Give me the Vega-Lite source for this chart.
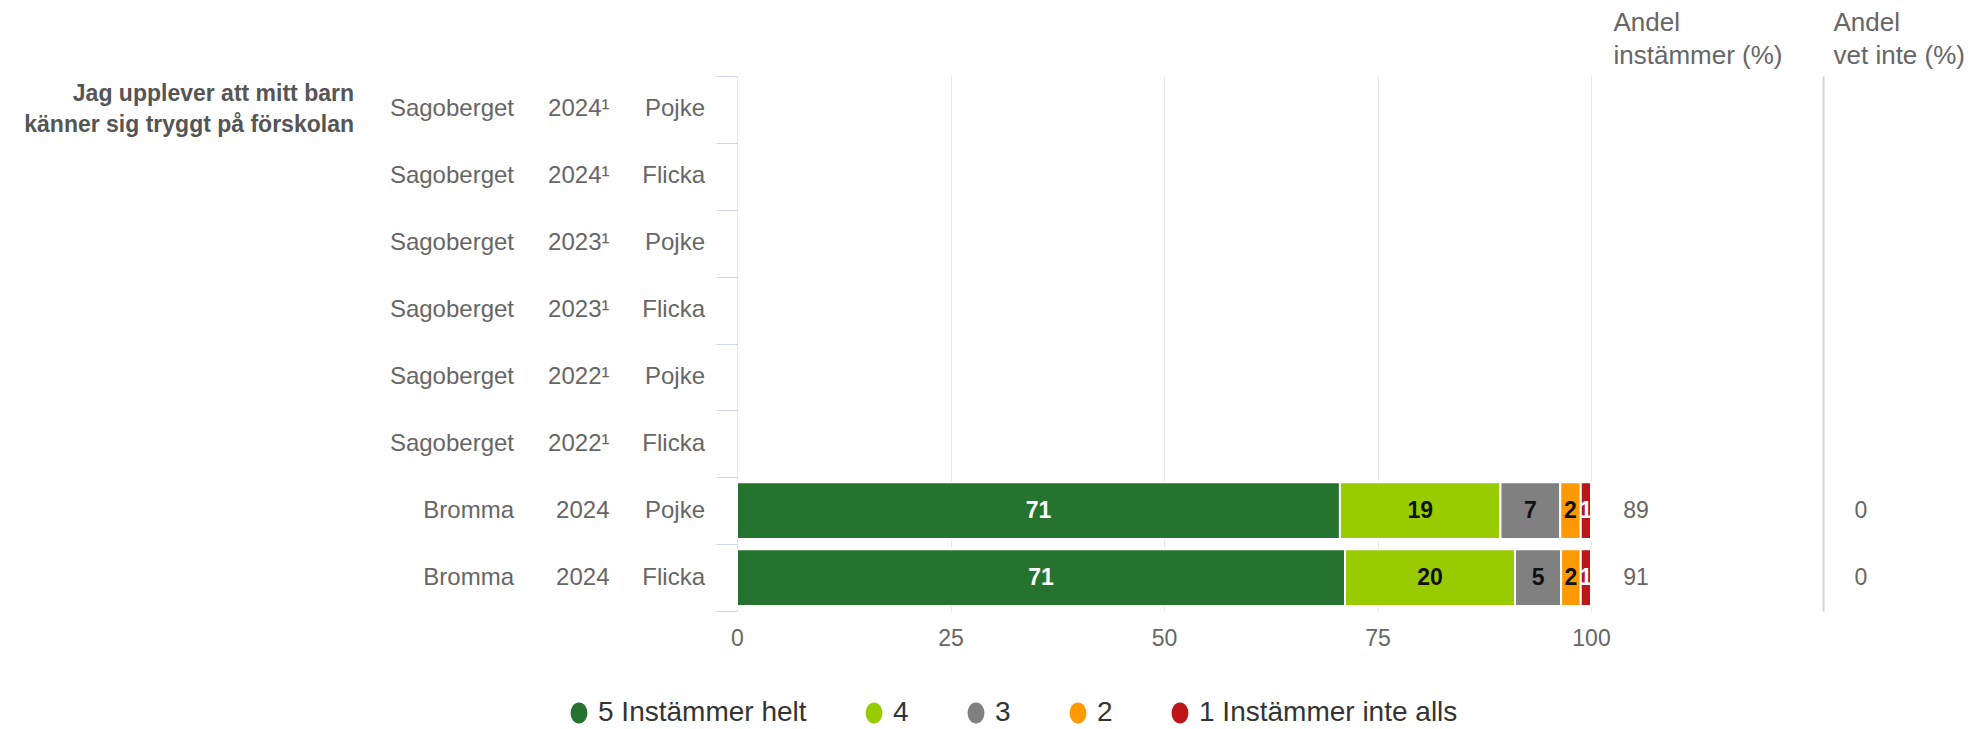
{
  "$schema": "https://vega.github.io/schema/vega-lite/v6.json",
  "padding": {"left": 0, "top": 9, "right": 0, "bottom": 0},
  "background": "white",
  "spacing": 0,
  "bounds": "flush",
  "datasets": {
    "rows": [
      {"row": 1, "unit": "Sagoberget", "year": "2024¹", "gender": "Pojke"},
      {"row": 2, "unit": "Sagoberget", "year": "2024¹", "gender": "Flicka"},
      {"row": 3, "unit": "Sagoberget", "year": "2023¹", "gender": "Pojke"},
      {"row": 4, "unit": "Sagoberget", "year": "2023¹", "gender": "Flicka"},
      {"row": 5, "unit": "Sagoberget", "year": "2022¹", "gender": "Pojke"},
      {"row": 6, "unit": "Sagoberget", "year": "2022¹", "gender": "Flicka"},
      {"row": 7, "unit": "Bromma", "year": "2024", "gender": "Pojke"},
      {"row": 8, "unit": "Bromma", "year": "2024", "gender": "Flicka"}
    ],
    "summary": [
      {"row": 7, "instammer": 89, "vetinte": 0},
      {"row": 8, "instammer": 91, "vetinte": 0}
    ],
    "question": [
      {"row": 1, "text": ["Jag upplever att mitt barn", "känner sig tryggt på förskolan"]}
    ],
    "answers": [
      {"row": 7, "answer": "5 Instämmer helt", "value": 70.6},
      {"row": 7, "answer": "4", "value": 18.8},
      {"row": 7, "answer": "3", "value": 7.0},
      {"row": 7, "answer": "2", "value": 2.4},
      {"row": 7, "answer": "1 Instämmer inte alls", "value": 1.2},
      {"row": 8, "answer": "5 Instämmer helt", "value": 71.2},
      {"row": 8, "answer": "4", "value": 19.9},
      {"row": 8, "answer": "3", "value": 5.4},
      {"row": 8, "answer": "2", "value": 2.3},
      {"row": 8, "answer": "1 Instämmer inte alls", "value": 1.2}
    ]
  },
  "hconcat": [
    {
      "width": 354,
      "height": 535,
      "data": {"name": "question"},
      "mark": {"type": "text", "align": "right", "baseline": "middle", "fontSize": 23, "fontWeight": "bold", "lineHeight": 31, "dy": -15, "color": "#555555"},
      "encoding": {
        "x": {"value": "width"},
        "y": {"field": "row", "type": "ordinal", "scale": {"domain": [1, 2, 3, 4, 5, 6, 7, 8], "paddingInner": 0, "paddingOuter": 0}, "axis": null},
        "text": {"field": "text"}
      }
    },
    {
      "width": 383,
      "height": 535,
      "data": {"name": "rows"},
      "transform": [{"fold": ["unit", "year", "gender"], "as": ["col", "label"]}],
      "mark": {"type": "text", "align": "right", "baseline": "middle", "fontSize": 24, "color": "#666666"},
      "encoding": {
        "x": {"field": "col", "type": "nominal", "scale": {"type": "point", "domain": ["unit", "year", "gender"], "range": [160, 351], "padding": 0}, "axis": null},
        "y": {"field": "row", "type": "ordinal", "scale": {"domain": [1, 2, 3, 4, 5, 6, 7, 8], "paddingInner": 0, "paddingOuter": 0}, "axis": null},
        "text": {"field": "label"}
      }
    },
    {
      "width": 854,
      "height": 535,
      "data": {"name": "answers"},
      "encoding": {
        "y": {"field": "row", "type": "ordinal", "scale": {"domain": [1, 2, 3, 4, 5, 6, 7, 8], "paddingInner": 0, "paddingOuter": 0},
          "axis": {"labels": false, "ticks": true, "tickBand": "extent", "tickSize": 21, "tickColor": "#ccd6eb", "tickWidth": 1, "domain": false, "grid": false, "title": null}}
      },
      "layer": [
        {
          "mark": {"type": "bar", "stroke": "white", "strokeWidth": 2, "height": {"band": 0.85}},
          "encoding": {
            "x": {"field": "value", "type": "quantitative", "stack": "zero", "scale": {"domain": [0, 100]}, "title": null,
              "axis": {"values": [0, 25, 50, 75, 100], "grid": true, "gridColor": "#e6e6e6", "ticks": false, "domain": false, "labelFlush": false, "labelFontSize": 23, "labelColor": "#666666", "labelPadding": 16, "title": null}},
            "color": {"field": "answer", "type": "nominal",
              "scale": {"domain": ["5 Instämmer helt", "4", "3", "2", "1 Instämmer inte alls"], "range": ["#25732e", "#99cc00", "#808080", "#ff9900", "#bd1619"]},
              "legend": {"title": null, "orient": "none", "legendX": 565, "legendY": 623, "direction": "horizontal", "symbolType": "M-0.8,0A0.8,1,0,1,0,0.8,0A0.8,1,0,1,0,-0.8,0Z", "symbolSize": 441, "symbolStrokeWidth": 0, "labelFontSize": 28, "labelColor": "#333333", "labelOffset": 5, "labelLimit": 500, "columnPadding": 53}},
            "order": {"field": "answer", "sort": "descending"}
          }
        },
        {
          "transform": [
            {"stack": "value", "groupby": ["row"], "sort": [{"field": "answer", "order": "descending"}], "as": ["v0", "v1"]},
            {"calculate": "(datum.v0 + datum.v1) / 2", "as": "mid"}
          ],
          "mark": {"type": "text", "fontSize": 23, "fontWeight": "bold", "align": "center", "baseline": "middle"},
          "encoding": {
            "x": {"field": "mid", "type": "quantitative", "title": null},
            "text": {"field": "value", "type": "quantitative", "format": ".0f"},
            "color": {"condition": {"test": "datum.answer === '5 Instämmer helt' || datum.answer === '1 Instämmer inte alls'", "value": "#ffffff"}, "value": "#111111"}
          }
        }
      ]
    },
    {
      "width": 232,
      "height": 535,
      "data": {"name": "summary"},
      "mark": {"type": "text", "align": "center", "baseline": "middle", "fontSize": 23, "color": "#666666"},
      "encoding": {
        "x": {"datum": "Andel instämmer", "type": "nominal", "scale": {"type": "point", "range": [0, 90]},
          "axis": {"orient": "top", "labels": false, "ticks": false, "domain": false, "grid": false, "title": ["Andel", "instämmer (%)"], "titleFontSize": 26, "titleFontWeight": "normal", "titleColor": "#666666", "titleLineHeight": 33, "titleAnchor": "start", "titleAlign": "left", "titleX": 22, "titlePadding": 8}},
        "y": {"field": "row", "type": "ordinal", "scale": {"domain": [1, 2, 3, 4, 5, 6, 7, 8], "paddingInner": 0, "paddingOuter": 0}, "axis": null},
        "text": {"field": "instammer", "type": "quantitative"}
      }
    },
    {
      "width": 150,
      "height": 535,
      "data": {"name": "summary"},
      "mark": {"type": "text", "align": "center", "baseline": "middle", "fontSize": 23, "color": "#666666"},
      "encoding": {
        "x": {"datum": "Andel vet inte", "type": "nominal", "scale": {"type": "point", "range": [0, 76]},
          "axis": {"orient": "top", "labels": false, "ticks": false, "domain": false, "grid": false, "title": ["Andel", "vet inte (%)"], "titleFontSize": 26, "titleFontWeight": "normal", "titleColor": "#666666", "titleLineHeight": 33, "titleAnchor": "start", "titleAlign": "left", "titleX": 10, "titlePadding": 8}},
        "y": {"field": "row", "type": "ordinal", "scale": {"domain": [1, 2, 3, 4, 5, 6, 7, 8], "paddingInner": 0, "paddingOuter": 0},
          "axis": {"labels": false, "ticks": false, "grid": false, "domain": true, "domainColor": "#ccd6eb", "domainWidth": 2, "title": null}},
        "text": {"field": "vetinte", "type": "quantitative"}
      }
    }
  ],
  "config": {
    "view": {"stroke": null},
    "font": "Liberation Sans",
    "axis": {"minExtent": 0}
  }
}
